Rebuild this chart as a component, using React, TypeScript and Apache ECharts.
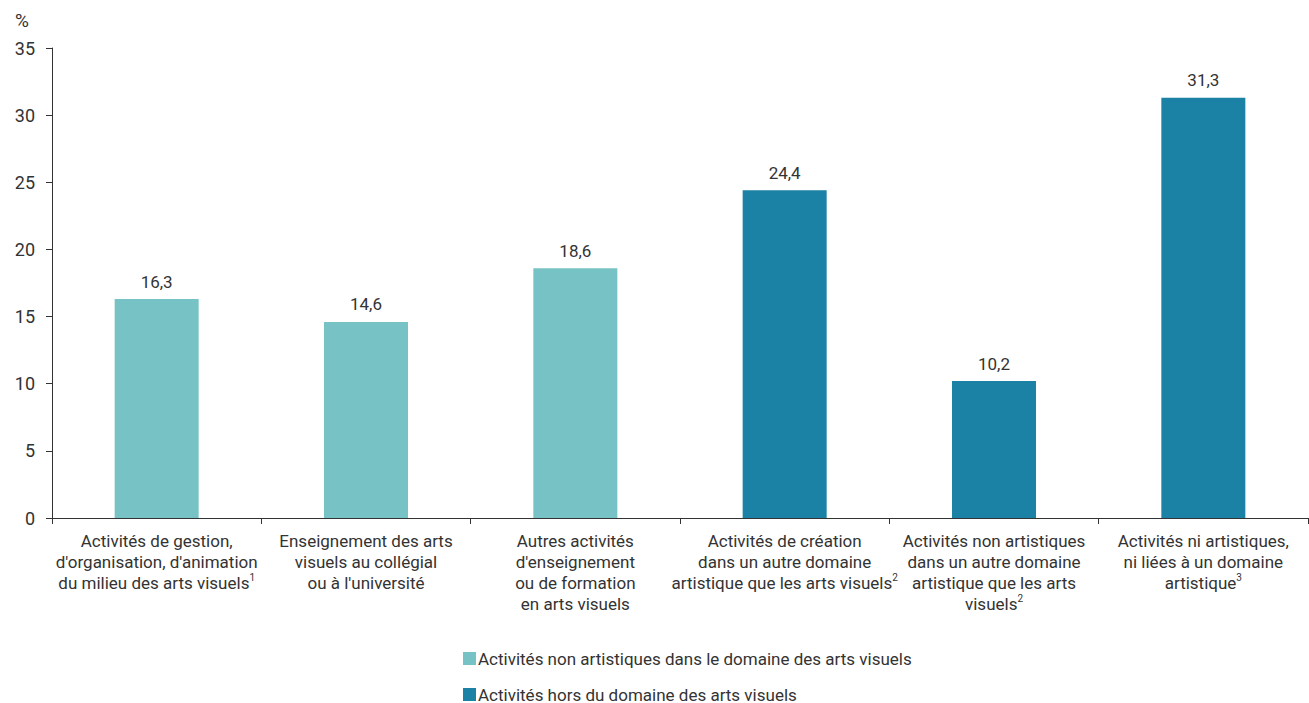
import React, { useEffect, useRef } from "react";
import * as echarts from "echarts";

const categories = [
  "Activités de gestion,\nd'organisation, d'animation\ndu milieu des arts visuels{sup|1}",
  "Enseignement des arts\nvisuels au collégial\nou à l'université",
  "Autres activités\nd'enseignement\nou de formation\nen arts visuels",
  "Activités de création\ndans un autre domaine\nartistique que les arts visuels{sup|2}",
  "Activités non artistiques\ndans un autre domaine\nartistique que les arts\nvisuels{sup|2}",
  "Activités ni artistiques,\nni liées à un domaine\nartistique{sup|3}",
];
const seriesNames = [
  "Activités non artistiques dans le domaine des arts visuels",
  "Activités hors du domaine des arts visuels",
];
const nonArtValues = [16.3, 14.6, 18.6, null, null, null];
const horsValues = [null, null, null, 24.4, 10.2, 31.3];
const yTicks = [0, 5, 10, 15, 20, 25, 30, 35];
const yUnit = "%";

const FONT = "Roboto, sans-serif";
const TEXT = "#333333";
const COLORS = ["#77C2C4", "#1B81A5"];

export default function App() {
  const ref = useRef<HTMLDivElement>(null);
  useEffect(() => {
    const chart = echarts.init(ref.current!, null, { renderer: "svg" });
    const labelCfg = {
      show: true,
      position: "top",
      distance: 9,
      color: TEXT,
      fontSize: 17,
      fontFamily: FONT,
      formatter: (p: any) => String(p.value).replace(".", ","),
    };
    const legendBase = {
      orient: "vertical",
      left: 458,
      itemWidth: 13,
      itemHeight: 13,
      itemGap: 10,
      icon: "rect",
      textStyle: { color: TEXT, fontSize: 17, fontFamily: FONT, padding: [0, 0, 0, -3] },
    };
    chart.setOption({
      animation: false,
      textStyle: { fontFamily: FONT },
      grid: { left: 52, right: 1, top: 48, bottom: 185, containLabel: false },
      xAxis: {
        type: "category",
        data: categories,
        axisLine: { lineStyle: { color: TEXT, width: 1 } },
        axisTick: { show: true, length: 6, lineStyle: { color: TEXT } },
        axisLabel: {
          interval: 0,
          color: TEXT,
          fontSize: 17,
          lineHeight: 21,
          margin: 12,
          fontFamily: FONT,
          rich: {
            sup: { fontSize: 10, verticalAlign: "top", lineHeight: 21, color: TEXT, fontFamily: FONT, padding: [0, 0, 8, 0] },
          },
        },
      },
      yAxis: {
        type: "value",
        min: yTicks[0],
        max: yTicks[yTicks.length - 1],
        interval: 5,
        axisLine: { show: true, lineStyle: { color: TEXT, width: 1 } },
        axisTick: { show: true, length: 6, lineStyle: { color: TEXT } },
        axisLabel: { color: TEXT, fontSize: 18, margin: 17, fontFamily: FONT },
        splitLine: { show: false },
      },
      graphic: [
        {
          type: "text",
          left: 15,
          top: 11,
          style: { text: yUnit, fill: TEXT, fontSize: 19, fontFamily: FONT },
        },
      ],
      legend: [
        { ...legendBase, top: 645, data: [seriesNames[0]] },
        { ...legendBase, top: 681, data: [seriesNames[1]] },
      ],
      series: [
        {
          name: seriesNames[0],
          type: "bar",
          stack: "a",
          barWidth: 84,
          data: nonArtValues,
          itemStyle: { color: COLORS[0] },
          label: labelCfg,
        },
        {
          name: seriesNames[1],
          type: "bar",
          stack: "a",
          barWidth: 84,
          data: horsValues,
          itemStyle: { color: COLORS[1] },
          label: labelCfg,
        },
      ],
    });
    return () => chart.dispose();
  }, []);
  return <div ref={ref} style={{ width: 1309, height: 703, position: "absolute", left: 0, top: 0 }} />;
}
